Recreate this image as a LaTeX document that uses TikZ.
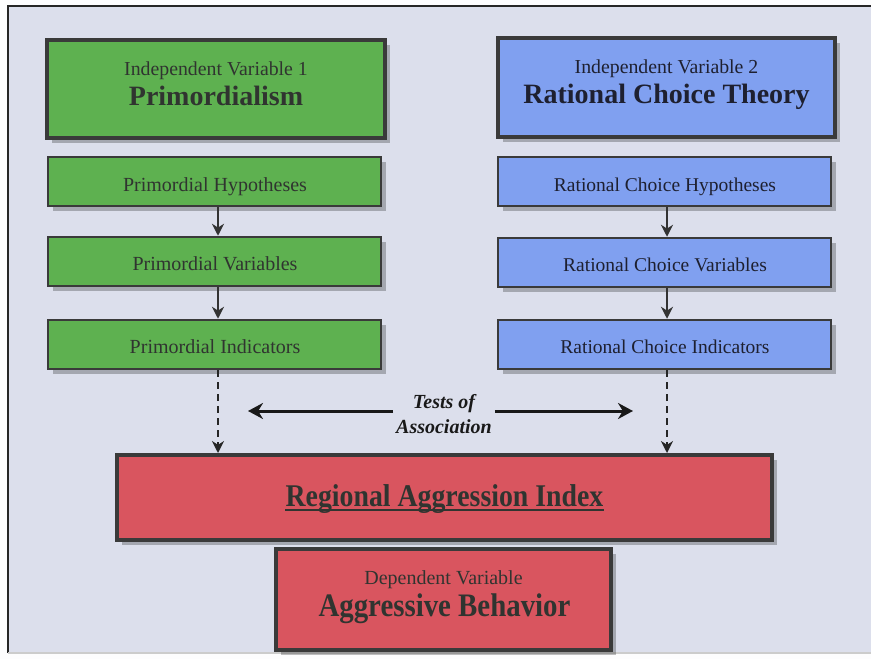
\documentclass[tikz,border=0pt]{standalone}
\usepackage{fontspec}
\setmainfont{Liberation Serif}
\newfontfamily\condserif[FakeStretch=0.88]{Liberation Serif}
\usetikzlibrary{shadows,arrows.meta}
\definecolor{bgc}{RGB}{220,223,236}
\definecolor{grn}{RGB}{94,177,80}
\definecolor{blu}{RGB}{128,160,240}
\definecolor{rd}{RGB}{217,85,95}
\definecolor{edge}{RGB}{58,58,58}
\definecolor{txt}{RGB}{48,52,48}
\definecolor{txtb}{RGB}{30,32,48}
\begin{document}
\begin{tikzpicture}[x=1pt,y=-1pt,
  shadowed/.style={drop shadow={shadow xshift=5pt,shadow yshift=-5pt,opacity=0.25,fill=black}},
  bigbox/.style={draw=edge,line width=4pt,inner sep=0pt,shadowed},
  smallbox/.style={draw=edge,line width=2.5pt,inner sep=0pt,shadowed},
  lbl/.style={inner sep=0pt,anchor=base,text=txt},
  flow/.style={draw=black!80,line width=2pt,-{Stealth[length=12pt,width=12pt]}},
  dashflow/.style={draw=black!85,line width=2pt,dash pattern=on 7pt off 5pt,-{Stealth[length=12pt,width=12pt]}},
  assoc/.style={draw=black!90,line width=3pt,-{Stealth[length=15pt,width=16pt]}}
]
\useasboundingbox (0,0) rectangle (871,659);
\fill[white!94!bgc] (0,0) rectangle (871,659);
\fill[bgc] (8,6) rectangle (871,653);
\draw[line width=2pt, black!85] (871,6) -- (8,6) -- (8,653);
\draw[line width=1.5pt, black!20] (8,653) -- (871,653);

% top boxes
\node[bigbox, fill=grn, minimum width=338pt, minimum height=98pt] (iv1) at (216,89) {};
\node[bigbox, fill=blu, minimum width=337pt, minimum height=99pt] (iv2) at (666.5,87.5) {};
\node[lbl, font=\fontsize{19.8}{19.8}\selectfont] (iv1a) at (216,75) {Independent Variable 1};
\node[lbl, font=\fontsize{28}{28}\selectfont\bfseries] (iv1b) at (216,105) {Primordialism};
\node[lbl, text=txtb, font=\fontsize{19.8}{19.8}\selectfont] (iv2a) at (666.5,73) {Independent Variable 2};
\node[lbl, text=txtb, font=\fontsize{28}{28}\selectfont\bfseries] (iv2b) at (666.5,103) {Rational Choice Theory};

% green column
\node[smallbox, fill=grn, minimum width=333pt, minimum height=49pt] (ph) at (214.5,181.5) {};
\node[smallbox, fill=grn, minimum width=333pt, minimum height=49pt] (pv) at (214.5,261.5) {};
\node[smallbox, fill=grn, minimum width=333pt, minimum height=49pt] (pi) at (214.5,344.5) {};
\node[lbl, font=\fontsize{20}{20}\selectfont] (pht) at (215,191) {Primordial Hypotheses};
\node[lbl, font=\fontsize{20}{20}\selectfont] (pvt) at (215,270) {Primordial Variables};
\node[lbl, font=\fontsize{20}{20}\selectfont] (pit) at (215,353) {Primordial Indicators};

% blue column
\node[smallbox, fill=blu, minimum width=333pt, minimum height=49pt] (rh) at (664.5,181.5) {};
\node[smallbox, fill=blu, minimum width=333pt, minimum height=49pt] (rv) at (664.5,262.5) {};
\node[smallbox, fill=blu, minimum width=333pt, minimum height=49pt] (ri) at (664.5,344.5) {};
\node[lbl, text=txtb, font=\fontsize{19.5}{19.5}\selectfont] (rht) at (665,191) {Rational Choice Hypotheses};
\node[lbl, text=txtb, font=\fontsize{19.5}{19.5}\selectfont] (rvt) at (665,271) {Rational Choice Variables};
\node[lbl, text=txtb, font=\fontsize{19.5}{19.5}\selectfont] (rit) at (665,353) {Rational Choice Indicators};

% red boxes
\node[bigbox, fill=rd, minimum width=655pt, minimum height=85pt] (rai) at (444.5,497.5) {};
\node[bigbox, fill=rd, minimum width=335pt, minimum height=101pt] (ab) at (443.5,599.5) {};
\node[lbl, font=\condserif\fontsize{31.6}{31.6}\selectfont\bfseries] (rait) at (444.5,506) {Regional Aggression Index};
\draw[line width=1.8pt, txt] ([yshift=-4pt]rait.base west) -- ([yshift=-4pt]rait.base east);
\node[lbl, font=\fontsize{20}{20}\selectfont] (aba) at (443.5,584) {Dependent Variable};
\node[lbl, font=\condserif\fontsize{32.8}{32.8}\selectfont\bfseries] (abb) at (444.5,616) {Aggressive Behavior};

% tests of association
\node[lbl, text=black!90, font=\fontsize{20}{20}\selectfont\bfseries\itshape] (t1) at (444,408) {Tests of};
\node[lbl, text=black!90, font=\fontsize{20}{20}\selectfont\bfseries\itshape] (t2) at (444,433) {Association};
\coordinate (al) at (248,411);
\coordinate (ar) at (633,411);
\draw[assoc] ([xshift=-3pt]t2.west |- al) -- (al);
\draw[assoc] ([xshift=3pt]t2.east |- ar) -- (ar);

% column connectors
\coordinate (lx) at (218,0);
\coordinate (rx) at (667,0);
\draw[flow] (ph.south -| lx) -- (pv.north -| lx);
\draw[flow] (pv.south -| lx) -- (pi.north -| lx);
\draw[flow] (rh.south -| rx) -- (rv.north -| rx);
\draw[flow] (rv.south -| rx) -- (ri.north -| rx);
\draw[dashflow] (pi.south -| lx) -- (rai.north -| lx);
\draw[dashflow] (ri.south -| rx) -- (rai.north -| rx);
\end{tikzpicture}
\end{document}
